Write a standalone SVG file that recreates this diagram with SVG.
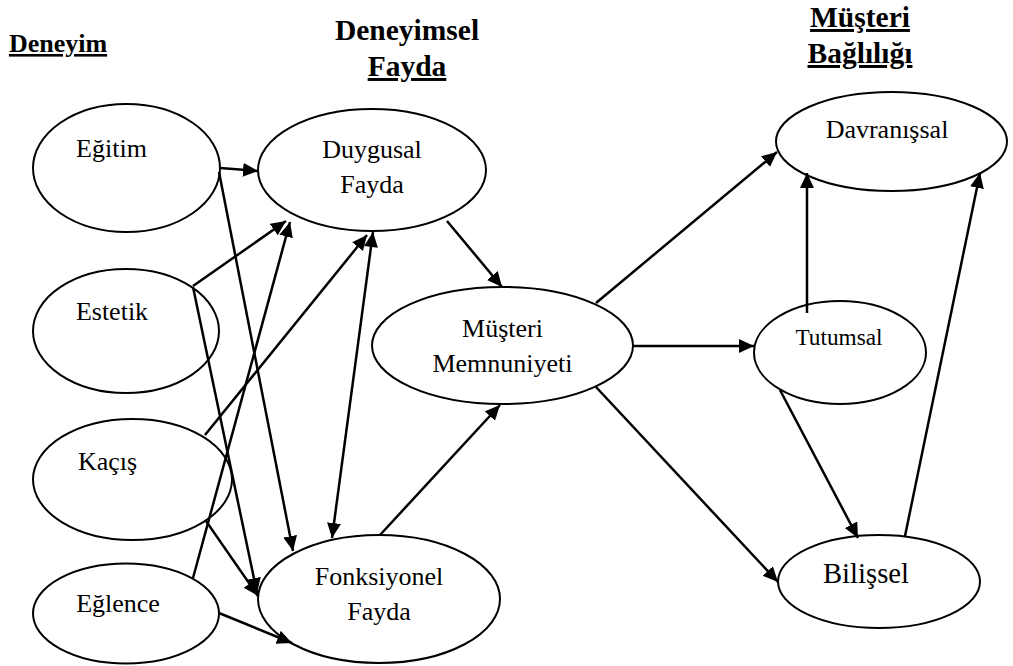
<svg xmlns="http://www.w3.org/2000/svg" width="1013" height="666" viewBox="0 0 1013 666">
  <style>
    .node ellipse { fill: #fff; stroke: #000; stroke-width: 2; }
    text { font-family: "Liberation Serif", "DejaVu Serif", serif; fill: #000; text-anchor: middle; }
    .lbl { font-size: 26px; }
    .hdr { font-size: 29.5px; font-weight: bold; }
    .u { text-decoration: underline; }
    #connectors line { stroke: #000; stroke-width: 2.5; fill: none; }
    .a { marker-end: url(#head); }
    .b { marker-start: url(#tail); marker-end: url(#head); }
  </style>
  <defs>
    <marker id="head" markerUnits="userSpaceOnUse" markerWidth="18" markerHeight="16" refX="15" refY="7" orient="auto">
      <path d="M0,0 L15,7 L0,14 Z" fill="#000"/>
    </marker>
    <marker id="tail" markerUnits="userSpaceOnUse" markerWidth="18" markerHeight="16" refX="0" refY="7" orient="auto">
      <path d="M15,0 L0,7 L15,14 Z" fill="#000"/>
    </marker>
  </defs>

  <rect width="1013" height="666" fill="#fff"/>

  <!-- column headings -->
  <g id="headings">
    <text class="hdr u" x="58" y="52" style="font-size:26px">Deneyim</text>
    <text class="hdr" x="407" y="40">Deneyimsel</text>
    <text class="hdr u" x="407" y="76">Fayda</text>
    <text class="hdr u" x="860" y="27">Müşteri</text>
    <text class="hdr u" x="860" y="63">Bağlılığı</text>
  </g>

  <!-- nodes -->
  <g id="egitim" class="node">
    <ellipse cx="126.5" cy="168" rx="93.5" ry="64"/>
    <text class="lbl" x="111.5" y="157">Eğitim</text>
  </g>
  <g id="estetik" class="node">
    <ellipse cx="126" cy="331" rx="93" ry="62"/>
    <text class="lbl" x="112" y="320">Estetik</text>
  </g>
  <g id="kacis" class="node">
    <ellipse cx="132.5" cy="479.5" rx="99.5" ry="60.5"/>
    <text class="lbl" x="107.5" y="470">Kaçış</text>
  </g>
  <g id="eglence" class="node">
    <ellipse cx="126" cy="613.5" rx="93" ry="50"/>
    <text class="lbl" x="118" y="612">Eğlence</text>
  </g>
  <g id="duygusal" class="node">
    <ellipse cx="372" cy="170" rx="114" ry="61"/>
    <text class="lbl" x="372" y="158">Duygusal</text>
    <text class="lbl" x="372" y="193">Fayda</text>
  </g>
  <g id="fonksiyonel" class="node">
    <ellipse cx="379" cy="599" rx="121" ry="64"/>
    <text class="lbl" x="379" y="585">Fonksiyonel</text>
    <text class="lbl" x="379" y="620">Fayda</text>
  </g>
  <g id="memnuniyet" class="node">
    <ellipse cx="502.5" cy="345.5" rx="130.5" ry="58.5"/>
    <text class="lbl" x="502.5" y="337">Müşteri</text>
    <text class="lbl" x="502.5" y="372">Memnuniyeti</text>
  </g>
  <g id="davranissal" class="node">
    <ellipse cx="891.5" cy="141.5" rx="115.5" ry="49.5"/>
    <text class="lbl" x="887" y="138">Davranışsal</text>
  </g>
  <g id="tutumsal" class="node">
    <ellipse cx="840" cy="352.5" rx="86" ry="51.5"/>
    <text class="lbl" x="839" y="345" style="font-size:23.3px">Tutumsal</text>
  </g>
  <g id="bilissel" class="node">
    <ellipse cx="879" cy="581.5" rx="101" ry="46.5"/>
    <text class="lbl" x="866" y="583" style="font-size:28.7px">Bilişsel</text>
  </g>

  <!-- connectors -->
  <g id="connectors">
    <line class="a" x1="220" y1="168" x2="258" y2="171"/>
    <line class="a" x1="219" y1="172" x2="293" y2="551"/>
    <line class="a" x1="193" y1="286" x2="286" y2="221"/>
    <line class="a" x1="193" y1="287" x2="257" y2="593"/>
    <line class="a" x1="205" y1="435" x2="367" y2="235"/>
    <line class="a" x1="206" y1="521" x2="258" y2="596"/>
    <line class="a" x1="193" y1="578" x2="290" y2="222"/>
    <line class="a" x1="219" y1="613" x2="292" y2="643"/>
    <line class="b" x1="373" y1="232" x2="332" y2="538"/>
    <line class="a" x1="447" y1="221" x2="502" y2="287"/>
    <line class="a" x1="380" y1="535" x2="500" y2="405"/>
    <line class="a" x1="596" y1="303" x2="777" y2="152"/>
    <line class="a" x1="633" y1="346" x2="754" y2="346"/>
    <line class="a" x1="596" y1="387" x2="778" y2="582"/>
    <line class="a" x1="807" y1="313" x2="807" y2="173"/>
    <line class="a" x1="780" y1="390" x2="858" y2="538"/>
    <line class="a" x1="905" y1="536" x2="980" y2="173"/>
  </g>
</svg>
